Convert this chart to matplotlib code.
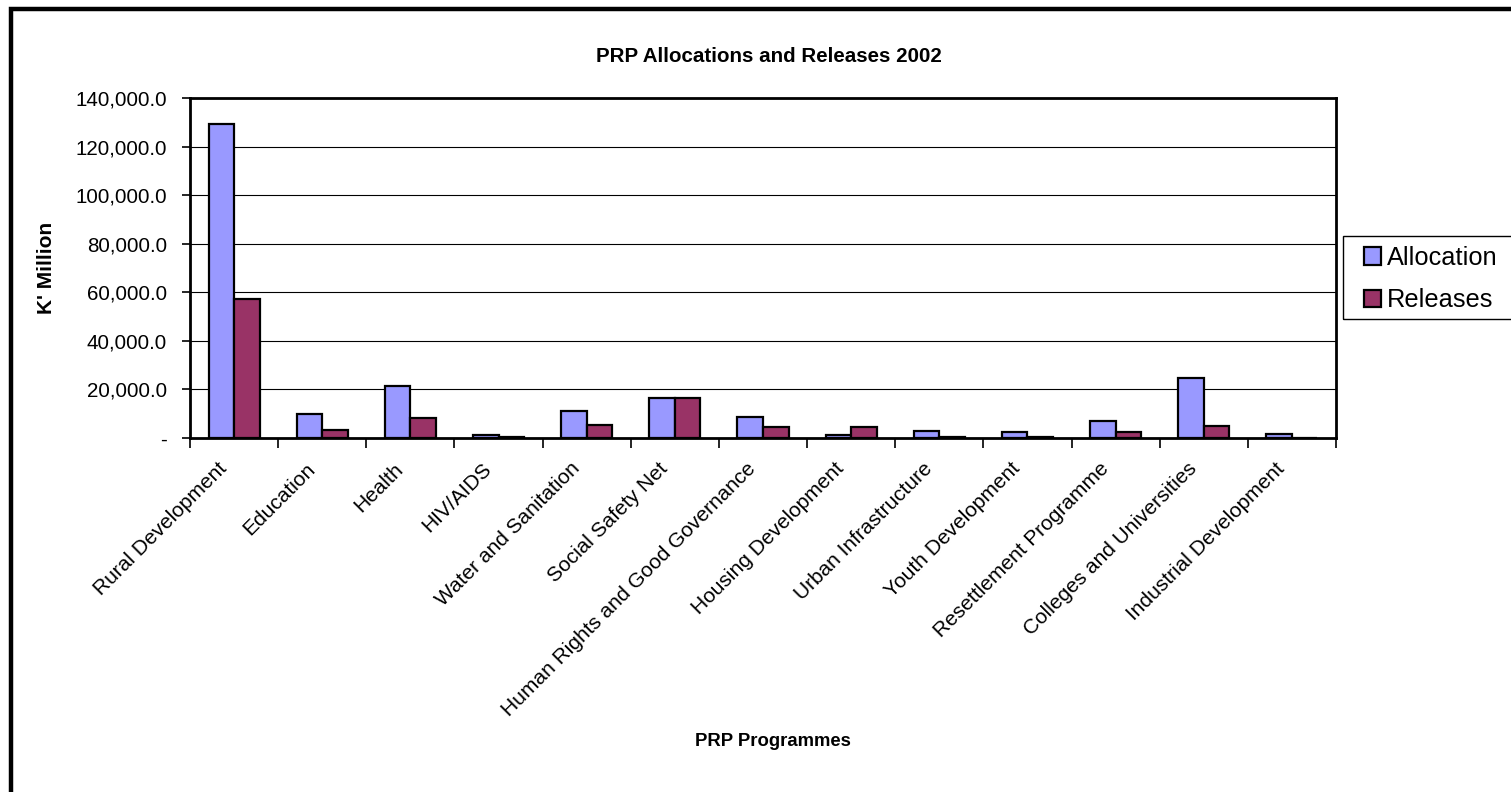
import matplotlib
matplotlib.use("Agg")
import matplotlib.pyplot as plt
import matplotlib.transforms as mtransforms
import numpy as np
from matplotlib.patches import Rectangle

categories = ["Rural Development", "Education", "Health", "HIV/AIDS",
              "Water and Sanitation", "Social Safety Net",
              "Human Rights and Good Governance", "Housing Development",
              "Urban Infrastructure", "Youth Development",
              "Resettlement Programme", "Colleges and Universities",
              "Industrial Development"]
allocation = [129500, 9800, 21300, 1100, 11100, 16500, 8800, 1100, 2750, 2500, 7150, 24700, 1800]
releases = [57100, 3200, 8200, 600, 5400, 16500, 4700, 4400, 300, 400, 2500, 5100, 200]
yticks = [0, 20000, 40000, 60000, 80000, 100000, 120000, 140000]
ytick_labels = ["-", "20,000.0", "40,000.0", "60,000.0", "80,000.0",
                "100,000.0", "120,000.0", "140,000.0"]

plt.rcParams['font.family'] = ['Liberation Sans', 'DejaVu Sans']

W, H = 1511, 792
fig = plt.figure(figsize=(W / 100, H / 100), dpi=100)
fig.patch.set_facecolor("white")

# outer border
fig.patches.append(Rectangle((11 / W, -0.05), 1.1, 1 - 9 / H + 0.05,
                             transform=fig.transFigure, fill=False,
                             edgecolor="black", linewidth=3.2, clip_on=False))

ax = fig.add_axes([190 / W, 1 - 438 / H, (1336 - 190) / W, (438 - 98) / H])
x = np.arange(len(categories))
bw = 0.29
ax.bar(x - bw / 2, allocation, bw, color="#9999FF", edgecolor="black",
       linewidth=1.6, label="Allocation", zorder=3)
ax.bar(x + bw / 2, releases, bw, color="#993366", edgecolor="black",
       linewidth=1.6, label="Releases", zorder=3)

ax.set_xlim(-0.5, len(categories) - 0.5)
ax.set_ylim(0, 140000)
ax.set_yticks(yticks)
ax.set_yticklabels(ytick_labels, fontsize=14.8)
ax.yaxis.grid(True, color="black", linewidth=0.8, zorder=0)
ax.set_axisbelow(True)

ax.set_xticks(x)
ax.set_xticklabels(categories, rotation=45, ha="right", va="center",
                   rotation_mode="anchor", fontsize=15)
ax.tick_params(axis="x", which="major", length=0, pad=20)
offset = mtransforms.ScaledTranslation(-10 / 100, 0, fig.dpi_scale_trans)
for lbl in ax.get_xticklabels():
    lbl.set_transform(lbl.get_transform() + offset)
ax.set_xticks(np.arange(-0.5, len(categories), 1.0), minor=True)
ax.tick_params(axis="x", which="minor", length=7, width=1.2, direction="out")
ax.tick_params(axis="y", length=6, width=1.2, direction="out", pad=10.5)

for s in ax.spines.values():
    s.set_linewidth(2)
    s.set_color("black")

ax.set_ylabel("K' Million", fontsize=15, fontweight="bold", labelpad=14)
fig.text(773 / W, 1 - 741 / H, "PRP Programmes", fontsize=13.3,
         fontweight="bold", ha="center", va="center")
fig.text(769 / W, 1 - 56 / H, "PRP Allocations and Releases 2002",
         fontsize=14.8, fontweight="bold", ha="center", va="center")

# legend frame drawn separately (extends past the right edge)
fig.patches.append(Rectangle((1343 / W, 1 - 319 / H), 0.2, (319 - 236) / H,
                             transform=fig.transFigure, fill=False,
                             edgecolor="black", linewidth=1.0, clip_on=False))
leg = ax.legend(loc="upper left", bbox_to_anchor=(1364 / W, 1 - 246 / H),
                bbox_transform=fig.transFigure, fontsize=18.3, frameon=False,
                borderpad=0, handlelength=0.67, handleheight=0.67,
                handletextpad=0.24, labelspacing=0.72, borderaxespad=0)

fig.savefig("out.png", dpi=100, facecolor="white")
